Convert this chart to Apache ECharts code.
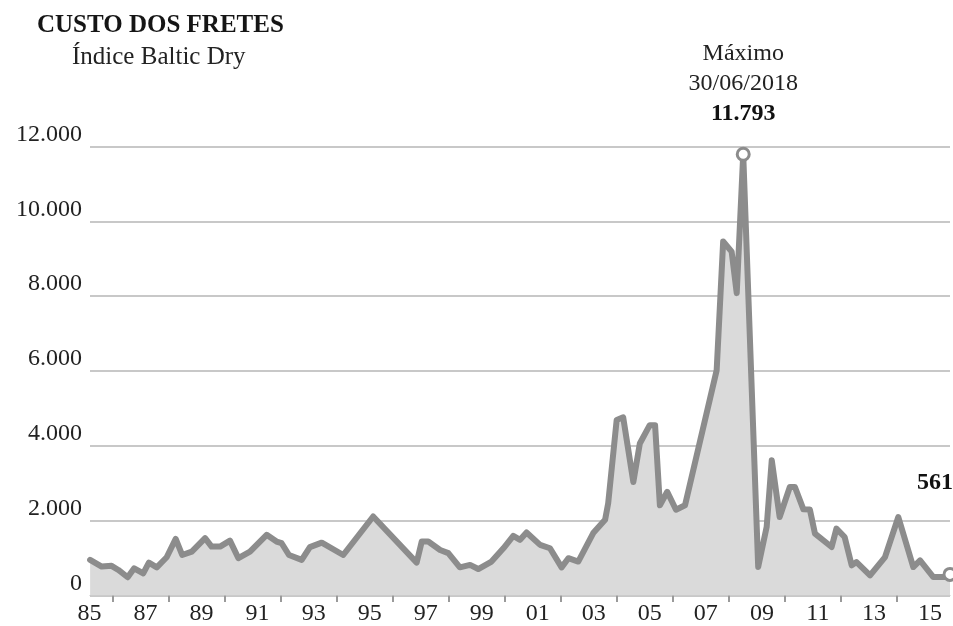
<!DOCTYPE html>
<html>
<head>
<meta charset="utf-8">
<script src="https://cdn.jsdelivr.net/npm/echarts@6/dist/echarts.min.js"></script>
<style>
  html, body { margin: 0; padding: 0; background: #fff; }
  #chart { width: 953px; height: 626px; }
</style>
</head>
<body>
<div id="chart"></div>
<script>
// Baltic Dry Index, time in decimal years
const years = [
  1985.19, 1985.6, 1985.95, 1986.19, 1986.52, 1986.75, 1987.07, 1987.27, 1987.55, 1987.9,
  1988.22, 1988.45, 1988.79, 1989.26, 1989.49, 1989.79, 1990.14, 1990.44, 1990.85, 1991.44,
  1991.79, 1991.97, 1992.23, 1992.68, 1992.97, 1993.39, 1994.15, 1995.21, 1996.75, 1996.93,
  1997.16, 1997.58, 1997.87, 1998.28, 1998.64, 1998.93, 1999.4, 1999.82, 2000.17, 2000.41,
  2000.64, 2001.12, 2001.47, 2001.88, 2002.12, 2002.47, 2003.0, 2003.42, 2003.53, 2003.83,
  2004.06, 2004.42, 2004.65, 2005.0, 2005.19, 2005.36, 2005.62, 2005.93, 2006.25, 2007.37,
  2007.6, 2007.9, 2008.08, 2008.31, 2008.84, 2009.14, 2009.32, 2009.6, 2009.96, 2010.14,
  2010.44, 2010.67, 2010.85, 2011.44, 2011.61, 2011.9, 2012.15, 2012.32, 2012.8, 2013.33,
  2013.8, 2014.33, 2014.57, 2015.04, 2015.5, 2015.63
];
const values = [
  950, 770, 790, 680, 485, 725, 590, 875, 750, 1020,
  1510, 1080, 1170, 1530, 1305, 1305, 1465, 995, 1170, 1620,
  1440, 1395, 1080, 950, 1290, 1410, 1080, 2110, 875, 1440,
  1440, 1215, 1130, 750, 815, 705, 905, 1260, 1590, 1485,
  1680, 1350, 1260, 750, 995, 905, 1665, 2020, 2465, 4690,
  4760, 3030, 4060, 4550, 4550, 2410, 2770, 2290, 2410, 6020,
  9460, 9190, 8080, 11793, 760, 1830, 3614, 2096, 2899, 2899,
  2300, 2294, 1651, 1293, 1785, 1561, 803, 891, 535, 1025,
  2096, 758, 937, 490, 490, 561
];
// Year slots for the time axis (ticks on even years, labels on odd years)
const axisYears = [];
for (let y = 1984; y <= 2016; y++) axisYears.push(String(y));

const maxDate = '30/06/2018';
const FONT = '"Liberation Serif", "Times New Roman", serif';
const FS = 24;
const LINE = '#8c8c8c';

function fmt(v) {
  return String(v).replace(/\B(?=(\d{3})+(?!\d))/g, '.');
}

const maxIdx = values.indexOf(Math.max.apply(null, values));
const lastIdx = values.length - 1;

const seriesData = years.map(function (y, i) {
  const item = { value: [y, values[i]] };
  if (i === maxIdx) {
    item.symbol = 'circle';
    item.label = {
      show: true,
      position: 'top',
      distance: 18,
      align: 'center',
      fontFamily: FONT,
      fontSize: FS,
      color: '#222',
      lineHeight: 30,
      formatter: function (p) {
        return 'Máximo\n' + maxDate + '\n{b|' + fmt(p.value[1]) + '}';
      },
      rich: { b: { fontFamily: FONT, fontSize: FS, fontWeight: 'bold', color: '#111', lineHeight: 30 } }
    };
  } else if (i === lastIdx) {
    item.symbol = 'circle';
    item.label = {
      show: true,
      position: 'top',
      distance: 72,
      align: 'right',
      fontFamily: FONT,
      fontSize: FS,
      fontWeight: 'bold',
      color: '#111',
      padding: [0, -3, 0, 0],
      formatter: function (p) { return fmt(p.value[1]); }
    };
  }
  return item;
});

const chart = echarts.init(document.getElementById('chart'), null, { renderer: 'canvas' });

chart.setOption({
  animation: false,
  backgroundColor: '#ffffff',
  title: [
    {
      text: 'CUSTO DOS FRETES',
      left: 32, top: 8,
      textStyle: { fontFamily: FONT, fontSize: 25, fontWeight: 'bold', color: '#151515' }
    },
    {
      text: 'Índice Baltic Dry',
      left: 67, top: 40,
      textStyle: { fontFamily: FONT, fontSize: FS + 1, fontWeight: 'normal', color: '#222' }
    }
  ],
  grid: [
    { left: 90, right: 3, top: 146.5, bottom: 30.6 },
    { left: 56.5, right: -7.5, top: 146.5, bottom: 30.6 }
  ],
  xAxis: [
    {
      type: 'value', gridIndex: 0,
      min: 1985.186, max: 2015.63,
      axisLine: { show: true, lineStyle: { color: '#bcbcbc', width: 1 } },
      axisTick: { show: false },
      axisLabel: { show: false },
      splitLine: { show: false }
    },
    {
      type: 'category', gridIndex: 1,
      data: axisYears,
      boundaryGap: false,
      axisLine: { show: false },
      axisTick: {
        show: true,
        length: 10,
        lineStyle: { color: '#9a9a9a', width: 2 },
        interval: function (i, v) { const y = +v; return y % 2 === 0 && y >= 1986 && y <= 2014; }
      },
      axisLabel: {
        show: true,
        margin: 10,
        padding: [0, 0, 0, 10],
        fontFamily: FONT, fontSize: FS, color: '#222',
        interval: function (i, v) { return +v % 2 === 1; },
        formatter: function (v) { return v.slice(2); }
      },
      splitLine: { show: false }
    }
  ],
  yAxis: [
    {
      type: 'value', gridIndex: 0,
      min: 0, max: 12000, interval: 2000,
      axisLine: { show: false },
      axisTick: { show: false },
      axisLabel: {
        margin: 8,
        verticalAlign: 'bottom',
        fontFamily: FONT, fontSize: FS, color: '#222',
        formatter: function (v) { return fmt(v); }
      },
      splitLine: { show: true, lineStyle: { color: '#c8c8c8', width: 2 } }
    },
    { type: 'value', gridIndex: 1, show: false, min: 0, max: 12000 }
  ],
  series: [
    {
      type: 'line',
      xAxisIndex: 0, yAxisIndex: 0,
      data: seriesData,
      symbol: 'none',
      symbolSize: 12,
      clip: false,
      silent: true,
      lineStyle: { color: LINE, width: 6, join: 'round', cap: 'round' },
      itemStyle: { color: '#ffffff', borderColor: LINE, borderWidth: 3 },
      areaStyle: { color: '#dadada', opacity: 1 },
      emphasis: { disabled: true },
      z: 3
    }
  ]
});
</script>
</body>
</html>
